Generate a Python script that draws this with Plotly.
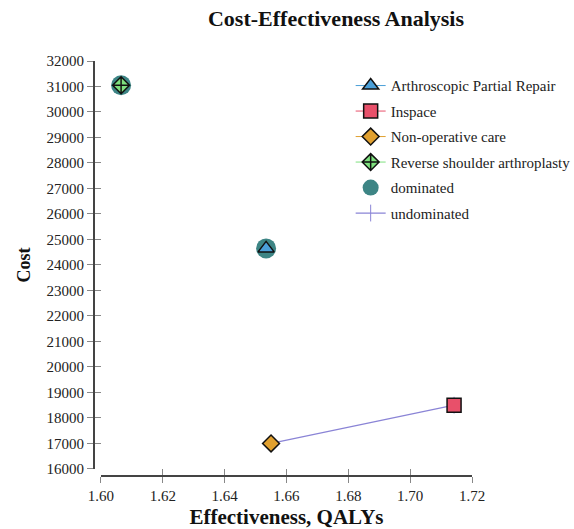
import plotly.graph_objects as go

strategies = ["Arthroscopic Partial Repair", "Inspace", "Non-operative care", "Reverse shoulder arthroplasty"]
effectiveness = [1.6534, 1.7142, 1.6550, 1.6065]
cost = [24650, 18500, 17000, 31050]
symbols = ["triangle-up", "square", "diamond", "diamond-cross"]
fills = ["#4a9fd8", "#e8506a", "#e0a030", "#7ee07e"]
sizes = [14, 14, 13, 13]

dominated = ["Reverse shoulder arthroplasty", "Arthroscopic Partial Repair"]
undominated = ["Non-operative care", "Inspace"]

x_ticks = [1.60, 1.62, 1.64, 1.66, 1.68, 1.70, 1.72]
y_ticks = list(range(16000, 32001, 1000))

font = "Liberation Serif"
fig = go.Figure()

dx = [effectiveness[strategies.index(s)] for s in dominated]
dy = [cost[strategies.index(s)] for s in dominated]
fig.add_trace(go.Scatter(
    x=dx, y=dy, mode="markers", name="dominated", legendgroup="dominated", legendrank=5,
    marker=dict(symbol="circle", size=20, color="#3d8585"),
))

ux = [effectiveness[strategies.index(s)] for s in undominated]
uy = [cost[strategies.index(s)] for s in undominated]
fig.add_trace(go.Scatter(
    x=ux, y=uy, mode="lines+markers", name="undominated", legendgroup="undominated", legendrank=6,
    line=dict(color="#8a84d6", width=1.2),
    marker=dict(symbol="line-ns-open", size=12, color="#8a84d6", line=dict(color="#8a84d6", width=1)),
))

for i, s in enumerate(strategies):
    fig.add_trace(go.Scatter(
        x=[effectiveness[i]], y=[cost[i]], mode="lines+markers", name=s,
        legendgroup=s, legendrank=i + 1,
        line=dict(color=fills[i], width=1),
        marker=dict(symbol=symbols[i], size=sizes[i], color=fills[i],
                    line=dict(color="#111111", width=1.5)),
    ))

axis_common = dict(showline=True, linecolor="#444444", linewidth=2, ticklen=6,
                   tickcolor="#888888", showgrid=False, zeroline=False, automargin=False)

fig.update_layout(
    width=574, height=529,
    margin=dict(l=94, r=102, t=61, b=53, autoexpand=False),
    paper_bgcolor="white", plot_bgcolor="white",
    font=dict(family=font, color="#222222", size=15),
    title=dict(text="<b>Cost-Effectiveness Analysis</b>", x=336 / 574, xref="container", xanchor="center",
               y=1 - 18 / 529, yref="container", yanchor="middle", automargin=False,
               font=dict(family=font, size=22, color="#111111")),
    legend=dict(x=0.679, y=0.98, xanchor="left", yanchor="top",
                font=dict(family=font, size=15, color="#222222"),
                traceorder="grouped", tracegroupgap=3, bgcolor="rgba(0,0,0,0)"),
    xaxis=dict(range=[1.60, 1.72], tickvals=x_ticks, ticktext=[f"{v:.2f}" for v in x_ticks],
               domain=[0.0185, 1], anchor="free", position=0, ticks="outside",
               title=dict(text="<b>Effectiveness, QALYs</b>", font=dict(family=font, size=21, color="#111111"), standoff=6),
               **axis_common),
    yaxis=dict(range=[16000, 32000], tickvals=y_ticks, ticktext=[str(v) for v in y_ticks],
               domain=[0.017, 1], anchor="free", position=0, ticks="outside",
               title=dict(text="<b>Cost</b>", font=dict(family=font, size=18, color="#111111"), standoff=10),
               **axis_common),
    xaxis2=dict(range=[1.60, 1.72], tickvals=x_ticks, showticklabels=False, overlaying="x",
                domain=[0.0185, 1], anchor="free", position=0, ticks="inside", **axis_common),
    yaxis2=dict(range=[16000, 32000], tickvals=y_ticks, showticklabels=False, overlaying="y",
                domain=[0.017, 1], anchor="free", position=0, ticks="inside", **axis_common),
)
fig.add_trace(go.Scatter(x=[], y=[], xaxis="x2", yaxis="y2", showlegend=False, hoverinfo="skip"))

fig.write_html("out.html", config={"displayModeBar": False},
               post_script="document.body.style.margin='0';document.body.style.overflow='hidden';")
